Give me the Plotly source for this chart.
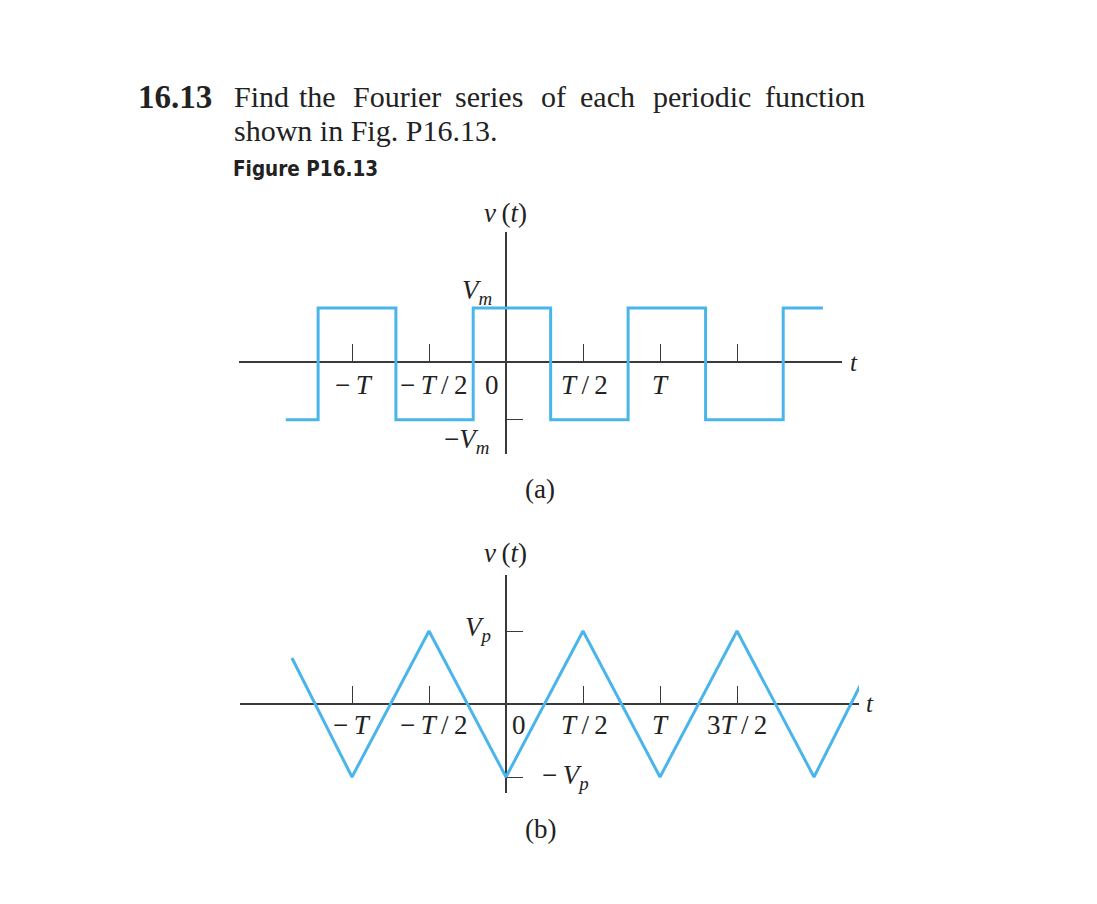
import plotly.graph_objects as go

W, H = 1097, 904

# ---------------- data ----------------
# (a) square wave (t in units of T, v in units of Vm); drawn as step 'hv'
sq_t = [-1.43, -1.22, -0.715, -0.213, 0.29, 0.793, 1.296, 1.80, 2.058]
sq_v = [-1.07, 1.0, -1.07, 1.0, -1.07, 1.0, -1.07, 1.0, 1.0]

# (b) triangle wave vertices (t in units of T, v in units of Vp)
tri_t = [-1.39, -1.0, -0.5, 0.0, 0.5, 1.0, 1.5, 2.0, 2.39]
tri_v = [0.63, -1.0, 1.0, -1.0, 1.0, -1.0, 1.0, -1.0, 0.63]

tick_t = [-1.0, -0.5, 0.5, 1.0, 1.5]
TS = "\u2009"
a_xlabels = ["−" + TS + "<i>T</i>", "−" + TS + "<i>T</i>" + TS + "/" + TS + "2", "0",
             "<i>T</i>" + TS + "/" + TS + "2", "<i>T</i>"]
a_xlabel_t = [-0.985, -0.47, -0.09, 0.51, 1.0]
b_xlabels = ["−" + TS + "<i>T</i>", "−" + TS + "<i>T</i>" + TS + "/" + TS + "2", "0",
             "<i>T</i>" + TS + "/" + TS + "2", "<i>T</i>", "3<i>T</i>" + TS + "/" + TS + "2"]
b_xlabel_t = [-1.0, -0.47, 0.085, 0.51, 1.0, 1.5]

title_words = ["Find", "the", "Fourier", "series", "of", "each", "periodic", "function"]
title_word_x = [232, 297, 351, 453, 539, 578, 651, 763]

BLUE = "#4ab5ea"
AX = "#3a3a3a"
TXT = "#222222"


def px(x):
    return x / W


def py(y):
    return 1 - y / H


fig = go.Figure()

fig.add_trace(go.Scatter(x=sq_t, y=sq_v, mode="lines", line=dict(color=BLUE, width=3, shape="hv"),
                         xaxis="x", yaxis="y", showlegend=False, hoverinfo="skip"))
fig.add_trace(go.Scatter(x=tri_t, y=tri_v, mode="lines", line=dict(color=BLUE, width=3),
                         xaxis="x2", yaxis="y2", showlegend=False, hoverinfo="skip"))

T_PX = 154.0
X0 = 506.0

# panel (a) geometry
a_left, a_right = 239, 842
a_top, a_bot, a_axis, a_unit = 232, 454, 362, 54.0
# panel (b) geometry
b_left, b_right = 240, 859
b_top, b_bot, b_axis, b_unit = 575, 793, 704, 73.0


def xaxis_cfg(left, right, axis_y):
    return dict(domain=[px(left), px(right)],
                range=[(left - X0) / T_PX, (right - X0) / T_PX],
                anchor="free", position=py(axis_y),
                showgrid=False, showline=False, showticklabels=False,
                zeroline=True, zerolinecolor=AX, zerolinewidth=1.5,
                ticks="inside", ticklen=18, tickwidth=1.3, tickcolor=AX,
                tickvals=tick_t, fixedrange=True)


def yaxis_cfg(top, bot, axis_y, unit, tickvals):
    return dict(domain=[py(bot), py(top)],
                range=[(axis_y - bot) / unit, (axis_y - top) / unit],
                anchor="free", position=px(X0),
                showgrid=False, showline=False, showticklabels=False,
                zeroline=True, zerolinecolor=AX, zerolinewidth=1.5,
                ticks="inside", ticklen=16, tickwidth=1.3, tickcolor=AX,
                tickvals=tickvals, fixedrange=True)


fig.update_layout(
    width=W, height=H,
    margin=dict(l=0, r=0, t=0, b=0),
    paper_bgcolor="white", plot_bgcolor="rgba(0,0,0,0)",
    xaxis=xaxis_cfg(a_left, a_right, a_axis),
    yaxis=yaxis_cfg(a_top, a_bot, a_axis, a_unit, [-1.07]),
    xaxis2=xaxis_cfg(b_left, b_right, b_axis),
    yaxis2=yaxis_cfg(b_top, b_bot, b_axis, b_unit, [1.0, -1.0]),
)

SERIF = "Liberation Serif, Times New Roman, serif"
ann = []


def label(text, x, y, size=27, family=SERIF, xanchor="center", yanchor="middle", color=TXT):
    ann.append(dict(text=text, x=px(x), y=py(y), xref="paper", yref="paper",
                    xanchor=xanchor, yanchor=yanchor, showarrow=False,
                    font=dict(family=family, size=size, color=color)))


# header text
label("<b>16.13</b>", 136, 97, size=33, xanchor="left")
for w, x in zip(title_words, title_word_x):
    label(w, x, 97, size=30, xanchor="left")
label("shown in Fig. P16.13.", 232, 130, size=30, xanchor="left")
label("<b>Figure P16.13</b>", 231, 169, size=20.5,
      family="Liberation Sans Narrow, DejaVu Sans Condensed, Arial Narrow, sans-serif", xanchor="left")

# panel (a) labels
label("<i>v</i>" + TS + "(<i>t</i>)", 505, 213, size=27)
label("<i>t</i>", 854, 362, size=25)
for t, s in zip(a_xlabel_t, a_xlabels):
    label(s, X0 + t * T_PX, 385)
label("<i>V<sub>m</sub></i>", 477, 292, size=27)
label("−<i>V<sub>m</sub></i>", 466, 441, size=27)
label("(a)", 540, 489, size=27)

# panel (b) labels
label("<i>v</i>" + TS + "(<i>t</i>)", 505, 553, size=27)
label("<i>t</i>", 870, 703, size=25)
for t, s in zip(b_xlabel_t, b_xlabels):
    label(s, X0 + t * T_PX, 725)
label("<i>V<sub>p</sub></i>", 478, 629, size=27)
label("−" + TS + "<i>V<sub>p</sub></i>", 565, 777, size=27)
label("(b)", 540, 829, size=27)

fig.update_layout(annotations=ann)

fig.write_html("out.html", config={"displayModeBar": False},
               post_script="document.body.style.margin='0px';")
